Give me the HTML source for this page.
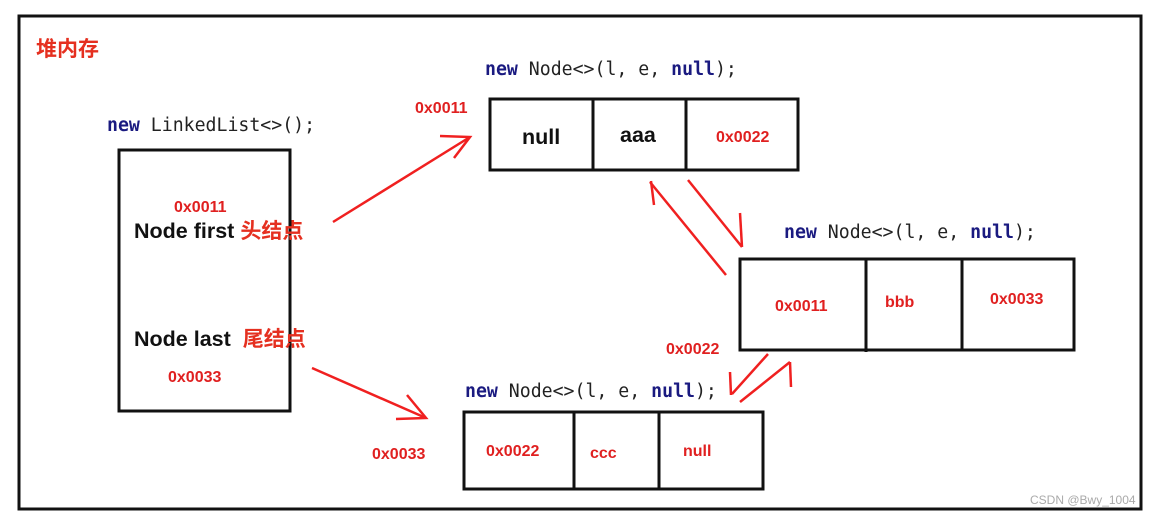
<!DOCTYPE html>
<html><head><meta charset="utf-8"><style>
body{margin:0;background:#fff;width:1160px;height:516px;overflow:hidden}
svg{display:block}
.m{font-family:"DejaVu Sans Mono","Liberation Mono",monospace;font-size:18.2px;fill:#222}
.k{fill:#1a1a80;font-weight:bold}
.r{font-family:"Liberation Sans",sans-serif;font-weight:bold;fill:#e02020;font-size:16px}
.b{font-family:"Liberation Sans",sans-serif;font-weight:bold;fill:#111;font-size:21.5px}
.c{font-family:"Liberation Sans","Noto Sans CJK SC",sans-serif;font-weight:bold;fill:#e53020;font-size:21px}
</style></head><body>
<svg width="1160" height="516" xmlns="http://www.w3.org/2000/svg">
<rect x="19" y="16" width="1122" height="493" fill="none" stroke="#111" stroke-width="3"/>
<text x="36" y="56" class="c" font-size="19">堆内存</text>
<text x="107" y="131" class="m"><tspan class="k">new</tspan> LinkedList&lt;&gt;();</text>
<rect x="119" y="150" width="171" height="261" fill="none" stroke="#111" stroke-width="3"/>
<text x="174" y="212" class="r">0x0011</text>
<text x="134" y="238" class="b">Node first <tspan class="c">头结点</tspan></text>
<text x="134" y="346" class="b">Node last  <tspan class="c" dx="6">尾结点</tspan></text>
<text x="168" y="382" class="r">0x0033</text>

<text x="485" y="75" class="m"><tspan class="k">new</tspan> Node&lt;&gt;(l, e, <tspan class="k">null</tspan>);</text>
<text x="415" y="113" class="r">0x0011</text>
<rect x="490" y="99" width="308" height="71" fill="none" stroke="#111" stroke-width="3"/>
<line x1="593" y1="99" x2="593" y2="170" stroke="#111" stroke-width="3"/>
<line x1="686" y1="99" x2="686" y2="170" stroke="#111" stroke-width="3"/>
<text x="522" y="144" class="b">null</text>
<text x="620" y="142" class="b">aaa</text>
<text x="716" y="142" class="r">0x0022</text>

<text x="784" y="238" class="m"><tspan class="k">new</tspan> Node&lt;&gt;(l, e, <tspan class="k">null</tspan>);</text>
<rect x="740" y="259" width="334" height="91" fill="none" stroke="#111" stroke-width="3"/>
<line x1="866" y1="259" x2="866" y2="352" stroke="#111" stroke-width="3"/>
<line x1="962" y1="259" x2="962" y2="350" stroke="#111" stroke-width="3"/>
<text x="775" y="311" class="r">0x0011</text>
<text x="885" y="307" class="r">bbb</text>
<text x="990" y="304" class="r">0x0033</text>
<text x="666" y="354" class="r">0x0022</text>

<text x="465" y="397" class="m"><tspan class="k">new</tspan> Node&lt;&gt;(l, e, <tspan class="k">null</tspan>);</text>
<text x="372" y="459" class="r">0x0033</text>
<rect x="464" y="412" width="299" height="77" fill="none" stroke="#111" stroke-width="3"/>
<line x1="574" y1="412" x2="574" y2="489" stroke="#111" stroke-width="3"/>
<line x1="659" y1="412" x2="659" y2="489" stroke="#111" stroke-width="3"/>
<text x="486" y="456" class="r">0x0022</text>
<text x="590" y="458" class="r">ccc</text>
<text x="683" y="456" class="r">null</text>

<g stroke="#f02020" stroke-width="2.5" fill="none">
<line x1="333" y1="222" x2="470" y2="137"/>
<polyline points="440,136 470,137 454,158"/>
<line x1="312" y1="368" x2="426" y2="418"/>
<polyline points="407,395 426,418 396,419"/>
<line x1="688" y1="180" x2="742" y2="247"/>
<polyline points="740,213 742,247"/>
<line x1="726" y1="275" x2="650" y2="182"/>
<polyline points="651,181 654,205"/>
<line x1="768" y1="354" x2="732" y2="394"/>
<polyline points="730,372 731,395"/>
<line x1="740" y1="402" x2="790" y2="362"/>
<polyline points="790,362 791,387"/>
</g>
<text x="1030" y="504" font-family="Liberation Sans,sans-serif" font-size="12" fill="#aaa">CSDN @Bwy_1004</text>
</svg>
</body></html>
